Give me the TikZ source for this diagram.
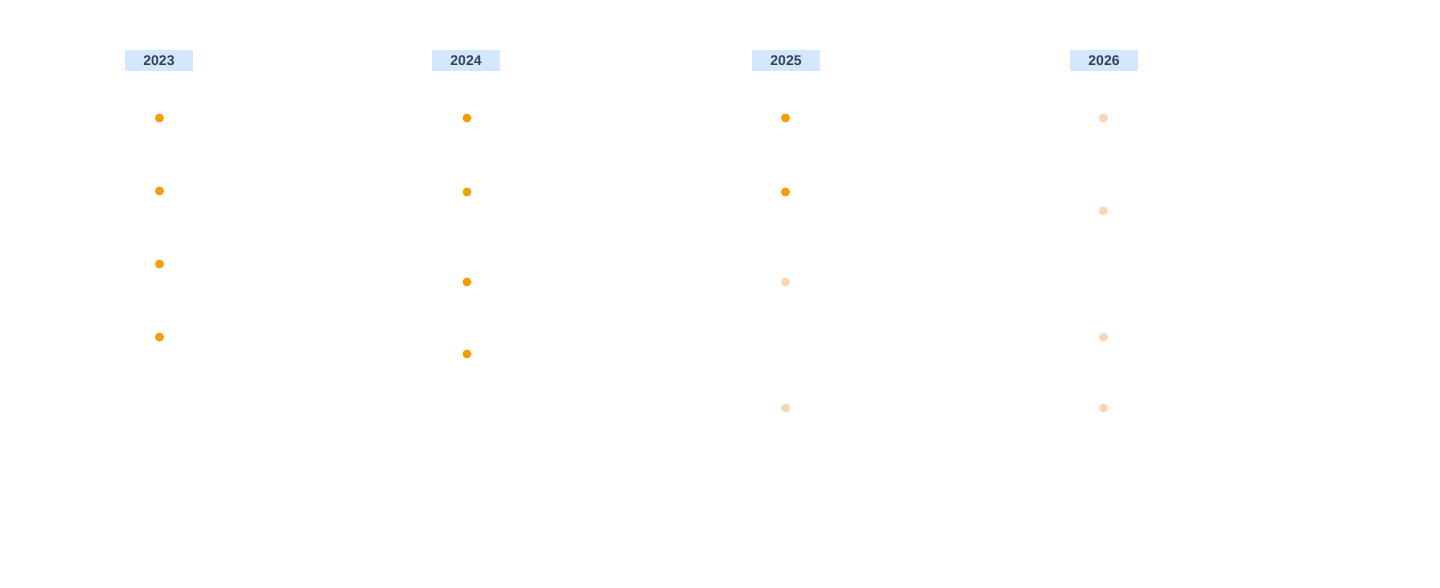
\documentclass[tikz,border=0pt]{standalone}
\usepackage{fontspec}
\setmainfont{Liberation Sans}
\usetikzlibrary{positioning}
\definecolor{yearblue}{HTML}{D3E8FF}
\definecolor{yeartext}{HTML}{334155}
\definecolor{doneorange}{HTML}{F59E0B}
\definecolor{planpeach}{HTML}{F8D7B9}
\begin{document}
\begin{tikzpicture}[x=1pt, y=1pt,
					yearnode/.style={rectangle,
					inner sep=0pt,
					minimum width=68pt,
					minimum height=21pt,
					fill=yearblue,
					text=yeartext,
					font=\bfseries\fontsize{14}{16}\selectfont},
					donedot/.style={circle,
					inner sep=0pt,
					minimum size=9pt,
					fill=doneorange},
					plandot/.style={circle,
					inner sep=0pt,
					minimum size=9pt,
					fill=planpeach}
					]

% page size of the reference
\useasboundingbox (0,0) rectangle (1440,-588);

%year nodes
\node[yearnode] (y2023) at (159,-60.5) {2023};
\node[yearnode] (y2024) [right of = y2023, node distance=307pt] {2024};
\node[yearnode] (y2025) [right of = y2024, node distance=320pt] {2025};
\node[yearnode] (y2026) [right of = y2025, node distance=318pt] {2026};

%2023 dots
\node[donedot] (d2023a) [below of = y2023, node distance=57.5pt, xshift=0.5pt] {};
\node[donedot] (d2023b) [below of = d2023a, node distance=73pt] {};
\node[donedot] (d2023c) [below of = d2023b, node distance=73pt] {};
\node[donedot] (d2023d) [below of = d2023c, node distance=73pt] {};

%2024 dots
\node[donedot] (d2024a) [below of = y2024, node distance=57.5pt, xshift=1pt] {};
\node[donedot] (d2024b) [below of = d2024a, node distance=74pt] {};
\node[donedot] (d2024c) [below of = d2024b, node distance=90pt] {};
\node[donedot] (d2024d) [below of = d2024c, node distance=72pt] {};

%2025 dots
\node[donedot] (d2025a) [below of = y2025, node distance=57.5pt, xshift=-0.5pt] {};
\node[donedot] (d2025b) [below of = d2025a, node distance=74pt] {};
\node[plandot] (d2025c) [below of = d2025b, node distance=90pt] {};
\node[plandot] (d2025d) [below of = d2025c, node distance=126pt] {};

%2026 dots
\node[plandot] (d2026a) [below of = y2026, node distance=57.5pt, xshift=-0.5pt] {};
\node[plandot] (d2026b) [below of = d2026a, node distance=93pt] {};
\node[plandot] (d2026c) [below of = d2026b, node distance=126pt] {};
\node[plandot] (d2026d) [below of = d2026c, node distance=71pt] {};

\end{tikzpicture}
\end{document}
